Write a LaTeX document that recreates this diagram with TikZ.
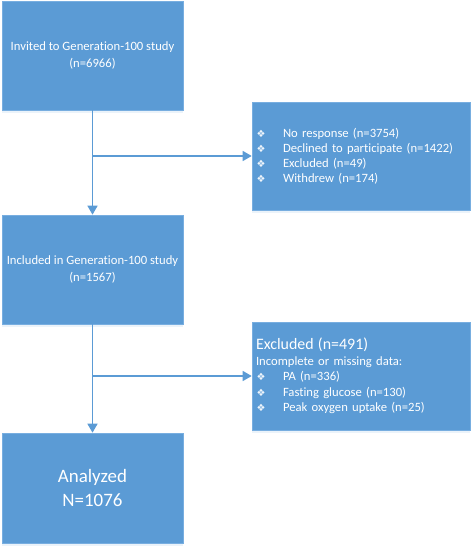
\documentclass[tikz,border=0pt]{standalone}
\usepackage{fontspec}
\setmainfont{Carlito}[Ligatures={NoCommon}]
\newfontfamily\symfont{DejaVu Sans}
\usetikzlibrary{arrows.meta,shadows}
\definecolor{boxfill}{HTML}{5B9BD5}
\definecolor{boxline}{HTML}{78AEE0}
\definecolor{flowline}{HTML}{5B9BD5}
\newcommand{\bul}{\makebox[27bp][l]{\hspace{0.5bp}{\symfont\fontsize{10}{10}\selectfont\color{white!90!boxfill}❖}}}
\tikzset{
  box/.style={rectangle, fill=boxfill, draw=boxline, line width=0.6bp,
    text=white, font=\fontsize{12.7}{16.5}\selectfont,
    drop shadow={opacity=0.12, shadow xshift=0bp, shadow yshift=-3bp, fill=boxfill}},
  mainbox/.style={box, minimum width=181bp, align=center, inner sep=0bp},
  sidebox/.style={box, minimum width=218bp, minimum height=108bp, align=left,
    text width=210bp, inner xsep=4bp, inner ysep=0bp},
  flow/.style={draw=flowline, line width=1.4bp},
  arr/.style={flow, -{Triangle[width=10bp,length=9bp]}}
}
\begin{document}
\begin{tikzpicture}[x=1bp,y=-1bp]
\useasboundingbox (0,0) rectangle (472,549);
\node[mainbox, minimum height=109bp] (b1) at (92.5,55.5)
  {Invited to Generation-100 study\\(n=6966)};
\node[sidebox, font=\fontsize{12.7}{15.2}\selectfont] (b2) at (361,156)
  {\bul No response (n=3754)\\
   \bul Declined to participate (n=1422)\\
   \bul Excluded (n=49)\\
   \bul Withdrew (n=174)};
\node[mainbox, minimum height=109bp] (b3) at (92.5,269.5)
  {Included in Generation-100 study\\(n=1567)};
\node[sidebox, font=\fontsize{12.7}{15.5}\selectfont] (b4) at (361,376)
  {{\fontsize{16}{18}\selectfont Excluded (n=491)}\\
   Incomplete or missing data:\\
   \bul PA (n=336)\\
   \bul Fasting glucose (n=130)\\
   \bul Peak oxygen uptake (n=25)};
\node[mainbox, minimum height=110bp, font=\fontsize{19}{24}\selectfont] (b5) at (92.5,488)
  {Analyzed\\N=1076};
\coordinate (j1) at (b1.south |- b2.west);
\coordinate (j2) at (b3.south |- b4.west);
\draw[arr] (b1.south) -- (b3.north);
\draw[arr] (b3.south) -- (b5.north);
\draw[arr] (j1) -- (b2.west);
\draw[arr] (j2) -- (b4.west);
\end{tikzpicture}
\end{document}
